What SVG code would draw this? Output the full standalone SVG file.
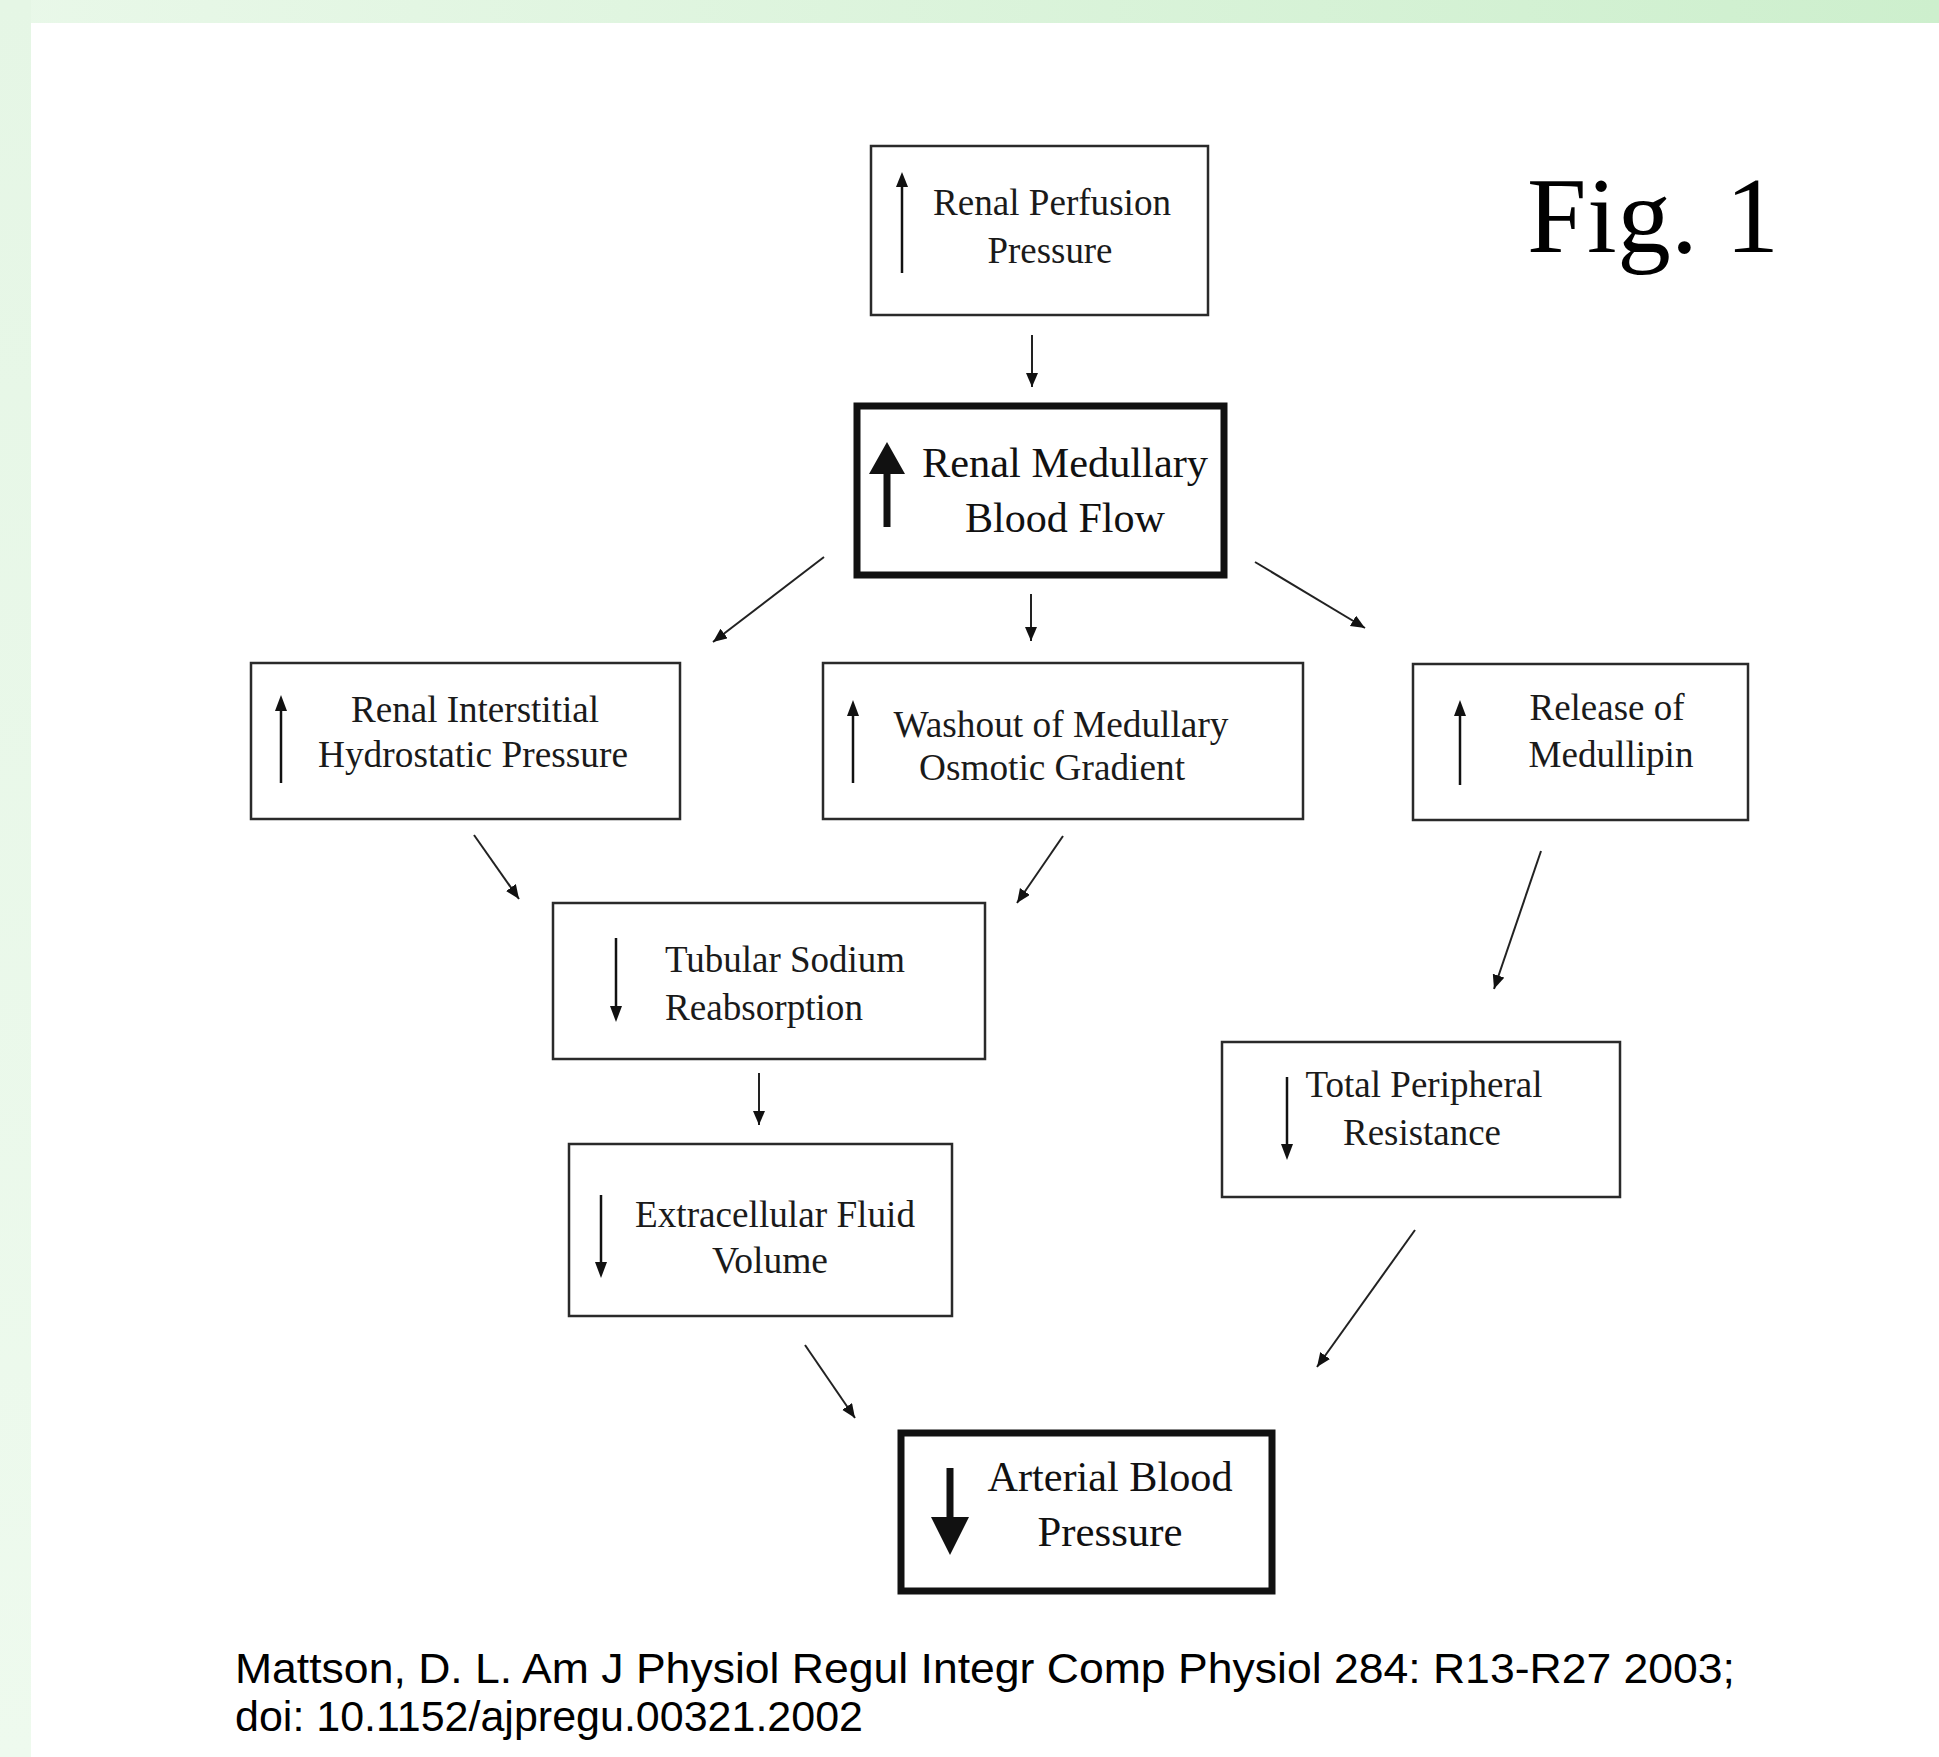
<svg xmlns="http://www.w3.org/2000/svg" width="1939" height="1757" viewBox="0 0 1939 1757">
<defs>
<linearGradient id="topband" x1="0" y1="0" x2="1" y2="0">
<stop offset="0" stop-color="#e9f8e9"/>
<stop offset="1" stop-color="#cdefcd"/>
</linearGradient>
<linearGradient id="leftband" x1="0" y1="0" x2="0" y2="1">
<stop offset="0" stop-color="#e5f6e5"/>
<stop offset="1" stop-color="#eefaee"/>
</linearGradient>
<marker id="ah" markerUnits="userSpaceOnUse" markerWidth="16" markerHeight="14" refX="14" refY="6" orient="auto">
<path d="M0,0 L14,6 L0,12 Z" fill="#111"/>
</marker>
</defs>
<style>
.box{fill:#fff;stroke:#2a2a2a;stroke-width:2.5}
.thick{fill:#fff;stroke:#111;stroke-width:7}
.t{font-family:"Liberation Serif","Times New Roman",serif;font-size:37px;fill:#1a1a1a}
.tb{font-family:"Liberation Serif","Times New Roman",serif;font-size:42px;fill:#111}
.mid{text-anchor:middle}
.conn{stroke:#222;stroke-width:2;fill:none;marker-end:url(#ah)}
.ia{stroke:#111;stroke-width:2.5}
.ih{fill:#111}
.big{stroke:#111;stroke-width:7}
.cite{font-family:"Liberation Sans",Arial,sans-serif;font-size:42px;fill:#000}
</style>
<rect x="0" y="0" width="1939" height="1757" fill="#ffffff"/>
<rect x="0" y="0" width="1939" height="23" fill="url(#topband)"/>
<rect x="0" y="0" width="31" height="1757" fill="url(#leftband)"/>

<text x="1527" y="252" font-family="Liberation Serif, Times New Roman, serif" font-size="107" fill="#000" textLength="252" lengthAdjust="spacing">Fig. 1</text>

<g id="connectors">
<line class="conn" x1="1032" y1="335" x2="1032" y2="387"/>
<line class="conn" x1="824" y1="557" x2="713" y2="642"/>
<line class="conn" x1="1031" y1="594" x2="1031" y2="641"/>
<line class="conn" x1="1255" y1="562" x2="1365" y2="628"/>
<line class="conn" x1="474" y1="835" x2="519" y2="899"/>
<line class="conn" x1="1063" y1="836" x2="1017" y2="903"/>
<line class="conn" x1="1541" y1="851" x2="1494" y2="989"/>
<line class="conn" x1="759" y1="1073" x2="759" y2="1125"/>
<line class="conn" x1="805" y1="1345" x2="855" y2="1418"/>
<line class="conn" x1="1415" y1="1230" x2="1317" y2="1367"/>
</g>

<g id="node-perfusion">
<rect class="box" x="871" y="146" width="337" height="169"/>
<line class="ia" x1="902" y1="184" x2="902" y2="273"/>
<path class="ih" d="M902,172 L896,187 L908,187 Z"/>
<text class="t mid" x="1052" y="215" textLength="238" lengthAdjust="spacingAndGlyphs">Renal Perfusion</text>
<text class="t mid" x="1050" y="263" textLength="125" lengthAdjust="spacingAndGlyphs">Pressure</text>
</g>

<g id="node-medullary">
<rect class="thick" x="857" y="406" width="367" height="169"/>
<line class="big" x1="887" y1="468" x2="887" y2="527"/>
<path class="ih" d="M887,442 L869,474 L905,474 Z"/>
<text class="tb mid" x="1065" y="477" textLength="286" lengthAdjust="spacingAndGlyphs">Renal Medullary</text>
<text class="tb mid" x="1065" y="532" textLength="200" lengthAdjust="spacingAndGlyphs">Blood Flow</text>
</g>

<g id="node-interstitial">
<rect class="box" x="251" y="663" width="429" height="156"/>
<line class="ia" x1="281" y1="707" x2="281" y2="783"/>
<path class="ih" d="M281,695 L275,711 L287,711 Z"/>
<text class="t mid" x="475" y="722" textLength="248" lengthAdjust="spacingAndGlyphs">Renal Interstitial</text>
<text class="t mid" x="473" y="767" textLength="310" lengthAdjust="spacingAndGlyphs">Hydrostatic Pressure</text>
</g>

<g id="node-washout">
<rect class="box" x="823" y="663" width="480" height="156"/>
<line class="ia" x1="853" y1="712" x2="853" y2="783"/>
<path class="ih" d="M853,700 L847,716 L859,716 Z"/>
<text class="t mid" x="1061" y="737" textLength="335" lengthAdjust="spacingAndGlyphs">Washout of Medullary</text>
<text class="t mid" x="1052" y="780" textLength="266" lengthAdjust="spacingAndGlyphs">Osmotic Gradient</text>
</g>

<g id="node-medullipin">
<rect class="box" x="1413" y="664" width="335" height="156"/>
<line class="ia" x1="1460" y1="712" x2="1460" y2="785"/>
<path class="ih" d="M1460,700 L1454,716 L1466,716 Z"/>
<text class="t mid" x="1607" y="720" textLength="155" lengthAdjust="spacingAndGlyphs">Release of</text>
<text class="t mid" x="1611" y="767" textLength="165" lengthAdjust="spacingAndGlyphs">Medullipin</text>
</g>

<g id="node-tubular">
<rect class="box" x="553" y="903" width="432" height="156"/>
<line class="ia" x1="616" y1="938" x2="616" y2="1010"/>
<path class="ih" d="M616,1022 L610,1006 L622,1006 Z"/>
<text class="t" x="665" y="972" textLength="240" lengthAdjust="spacingAndGlyphs">Tubular Sodium</text>
<text class="t" x="665" y="1020" textLength="198" lengthAdjust="spacingAndGlyphs">Reabsorption</text>
</g>

<g id="node-ecf">
<rect class="box" x="569" y="1144" width="383" height="172"/>
<line class="ia" x1="601" y1="1195" x2="601" y2="1266"/>
<path class="ih" d="M601,1278 L595,1262 L607,1262 Z"/>
<text class="t mid" x="775" y="1227" textLength="280" lengthAdjust="spacingAndGlyphs">Extracellular Fluid</text>
<text class="t mid" x="770" y="1273" textLength="116" lengthAdjust="spacingAndGlyphs">Volume</text>
</g>

<g id="node-tpr">
<rect class="box" x="1222" y="1042" width="398" height="155"/>
<line class="ia" x1="1287" y1="1077" x2="1287" y2="1148"/>
<path class="ih" d="M1287,1160 L1281,1144 L1293,1144 Z"/>
<text class="t mid" x="1424" y="1097" textLength="237" lengthAdjust="spacingAndGlyphs">Total Peripheral</text>
<text class="t mid" x="1422" y="1145" textLength="158" lengthAdjust="spacingAndGlyphs">Resistance</text>
</g>

<g id="node-abp">
<rect class="thick" x="901" y="1433" width="371" height="158"/>
<line class="big" x1="950" y1="1468" x2="950" y2="1525"/>
<path class="ih" d="M950,1555 L931,1517 L969,1517 Z"/>
<text class="tb mid" x="1110" y="1491" textLength="245" lengthAdjust="spacingAndGlyphs">Arterial Blood</text>
<text class="tb mid" x="1110" y="1546" textLength="145" lengthAdjust="spacingAndGlyphs">Pressure</text>
</g>

<g id="citation">
<text class="cite" x="235" y="1683" textLength="1500" lengthAdjust="spacingAndGlyphs">Mattson, D. L. Am J Physiol Regul Integr Comp Physiol 284: R13-R27 2003;</text>
<text class="cite" x="235" y="1731" textLength="628" lengthAdjust="spacingAndGlyphs">doi: 10.1152/ajpregu.00321.2002</text>
</g>
</svg>
